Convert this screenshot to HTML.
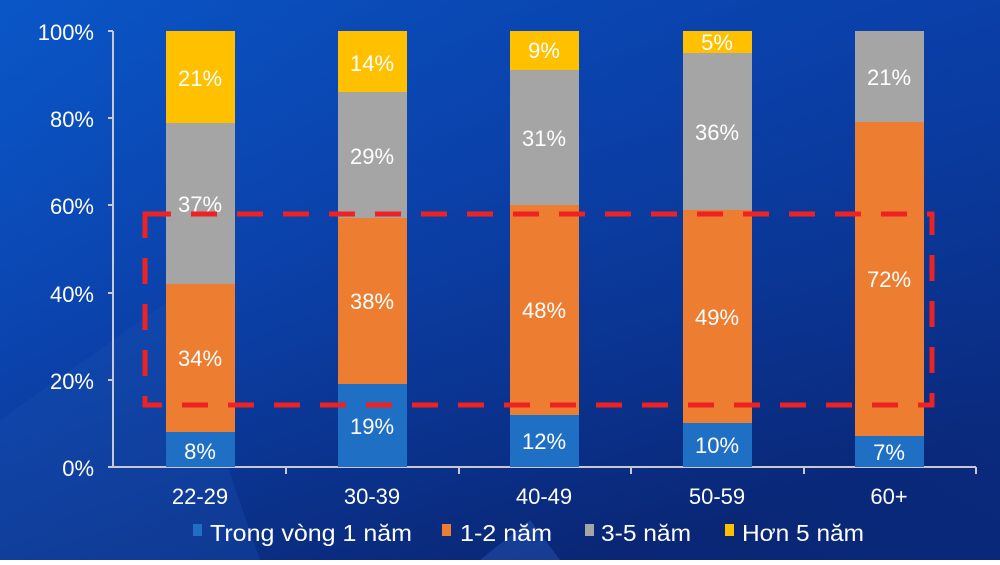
<!DOCTYPE html>
<html><head><meta charset="utf-8"><style>
body{margin:0;width:1000px;height:560px;overflow:hidden;}
</style></head><body>
<svg width="1000" height="560" xmlns="http://www.w3.org/2000/svg" font-family="Liberation Sans, sans-serif">
<defs>
<linearGradient id="bg" x1="0" y1="0" x2="0.6" y2="1">
<stop offset="0" stop-color="#0a66e0"/><stop offset="0.45" stop-color="#0b47b4"/><stop offset="1" stop-color="#0a2470"/>
</linearGradient>
<linearGradient id="bg2" x1="1" y1="0" x2="0" y2="1">
<stop offset="0" stop-color="#0a3aa0" stop-opacity="0.6"/><stop offset="1" stop-color="#0a2a80" stop-opacity="0"/>
</linearGradient>
</defs>
<rect width="1000" height="560" fill="url(#bg)"/>
<rect width="1000" height="560" fill="url(#bg2)"/>
<polygon points="0,560 0,420 170,300 260,560" fill="#1a4fb0" opacity="0.35"/>
<polygon points="480,560 530,520 560,560" fill="#2b5cc0" opacity="0.4"/>
<g stroke="#c8c8d0" stroke-width="2" fill="none">
<line x1="113" y1="31" x2="113" y2="467"/>
<line x1="113" y1="467" x2="976" y2="467"/>
<line x1="108" y1="31" x2="113" y2="31"/><line x1="108" y1="118" x2="113" y2="118"/>
<line x1="108" y1="205" x2="113" y2="205"/><line x1="108" y1="293" x2="113" y2="293"/>
<line x1="108" y1="380" x2="113" y2="380"/><line x1="108" y1="467" x2="113" y2="467"/>
<line x1="286" y1="467" x2="286" y2="474"/><line x1="459" y1="467" x2="459" y2="474"/>
<line x1="631" y1="467" x2="631" y2="474"/><line x1="804" y1="467" x2="804" y2="474"/>
<line x1="976" y1="467" x2="976" y2="474"/>
</g>
<g fill="#fff" font-size="22" text-anchor="end">
<text x="94" y="40">100%</text><text x="94" y="127">80%</text><text x="94" y="214">60%</text>
<text x="94" y="302">40%</text><text x="94" y="389">20%</text><text x="94" y="476">0%</text>
</g>
<g>
<rect x="166" y="432" width="69" height="35" fill="#1f6fc5"/>
<rect x="166" y="284" width="69" height="148" fill="#ed7d31"/>
<rect x="166" y="123" width="69" height="161" fill="#a5a5a5"/>
<rect x="166" y="31" width="69" height="92" fill="#ffc000"/>

<rect x="338" y="384" width="69" height="83" fill="#1f6fc5"/>
<rect x="338" y="218" width="69" height="166" fill="#ed7d31"/>
<rect x="338" y="92" width="69" height="126" fill="#a5a5a5"/>
<rect x="338" y="31" width="69" height="61" fill="#ffc000"/>

<rect x="510" y="415" width="69" height="52" fill="#1f6fc5"/>
<rect x="510" y="205" width="69" height="210" fill="#ed7d31"/>
<rect x="510" y="70" width="69" height="135" fill="#a5a5a5"/>
<rect x="510" y="31" width="69" height="39" fill="#ffc000"/>

<rect x="683" y="423" width="69" height="44" fill="#1f6fc5"/>
<rect x="683" y="210" width="69" height="213" fill="#ed7d31"/>
<rect x="683" y="53" width="69" height="157" fill="#a5a5a5"/>
<rect x="683" y="31" width="69" height="22" fill="#ffc000"/>

<rect x="855" y="436" width="69" height="31" fill="#1f6fc5"/>
<rect x="855" y="122" width="69" height="314" fill="#ed7d31"/>
<rect x="855" y="31" width="69" height="91" fill="#a5a5a5"/>
</g>
<g fill="#fff" font-size="22" text-anchor="middle">
<text x="200" y="459">8%</text><text x="200" y="366">34%</text><text x="200" y="212">37%</text><text x="200" y="86">21%</text>
<text x="372" y="434">19%</text><text x="372" y="309">38%</text><text x="372" y="164">29%</text><text x="372" y="71">14%</text>
<text x="544" y="449">12%</text><text x="544" y="318">48%</text><text x="544" y="146">31%</text><text x="544" y="58">9%</text>
<text x="717" y="453">10%</text><text x="717" y="325">49%</text><text x="717" y="140">36%</text><text x="717" y="50">5%</text>
<text x="889" y="460">7%</text><text x="889" y="287">72%</text><text x="889" y="85">21%</text>
</g>
<rect x="145" y="214" width="787" height="191" fill="none" stroke="#ee2222" stroke-width="5" stroke-dasharray="26,20"/>
<g fill="#fff" font-size="22" text-anchor="middle">
<text x="200" y="504">22-29</text><text x="372" y="504">30-39</text><text x="544" y="504">40-49</text>
<text x="717" y="504">50-59</text><text x="889" y="504">60+</text>
</g>
<g font-size="23" fill="#fff">
<rect x="193" y="524" width="9" height="12" fill="#1f6fc5"/><text x="210" y="541" textLength="202" lengthAdjust="spacingAndGlyphs">Trong vòng 1 năm</text>
<rect x="442" y="524" width="9" height="12" fill="#ed7d31"/><text x="460" y="541" textLength="92" lengthAdjust="spacingAndGlyphs">1-2 năm</text>
<rect x="585" y="524" width="9" height="12" fill="#a5a5a5"/><text x="601" y="541" textLength="90" lengthAdjust="spacingAndGlyphs">3-5 năm</text>
<rect x="725" y="524" width="9" height="12" fill="#ffc000"/><text x="742" y="541" textLength="122" lengthAdjust="spacingAndGlyphs">Hơn 5 năm</text>
</g>
</svg>
</body></html>
